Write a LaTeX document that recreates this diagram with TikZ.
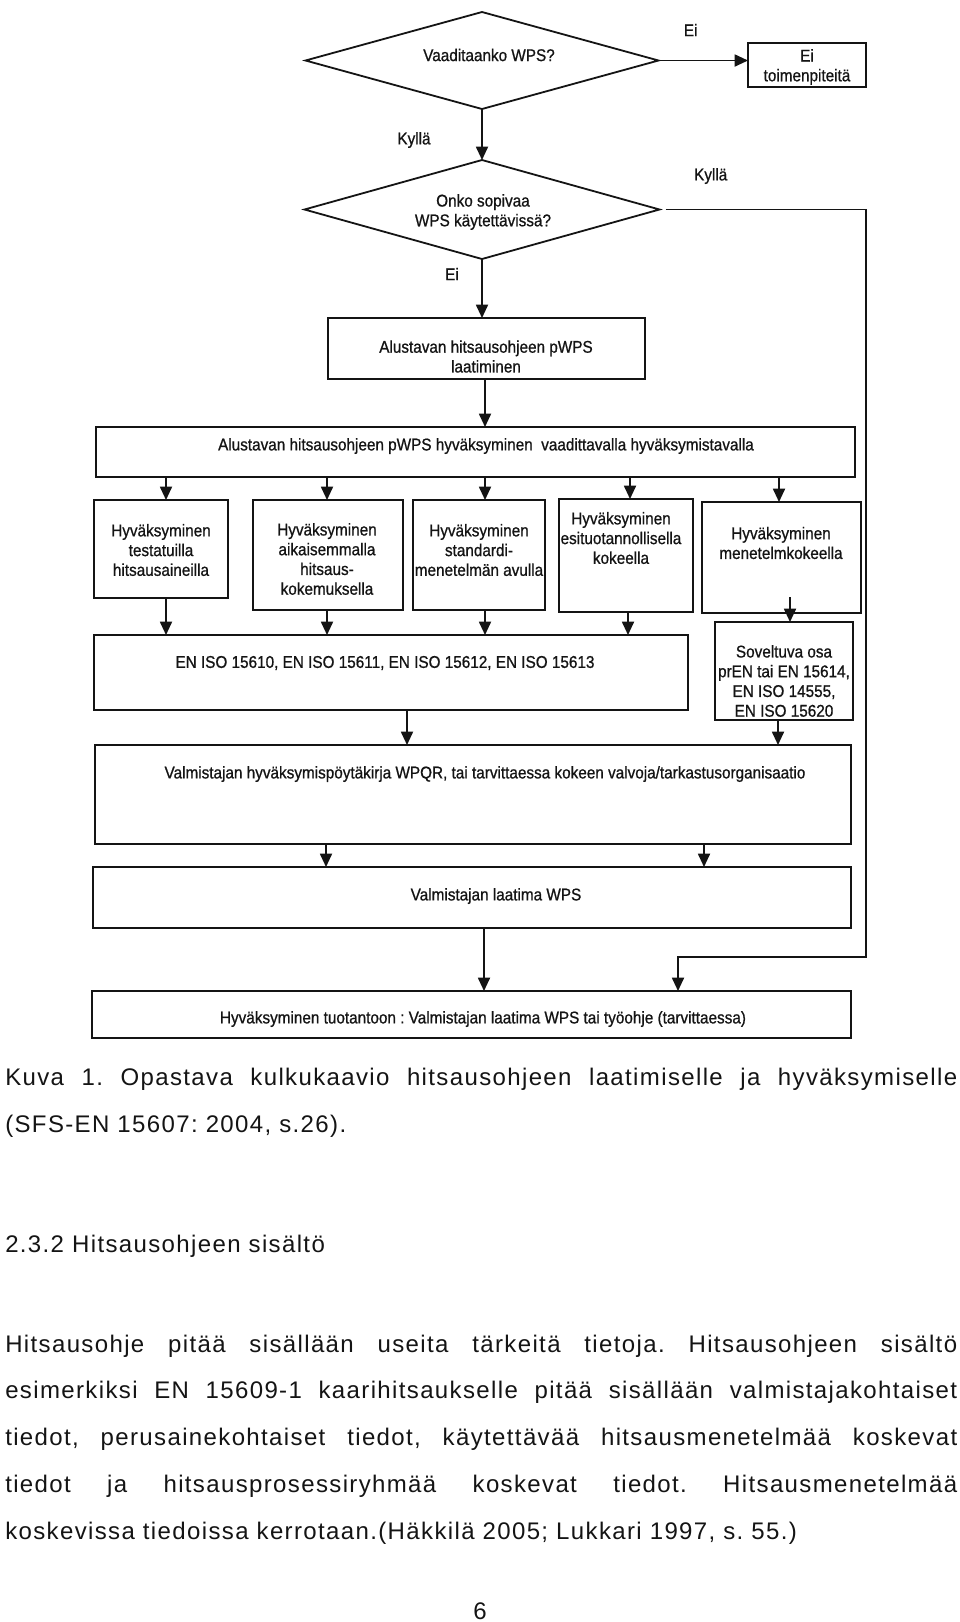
\documentclass[tikz,border=0pt]{standalone}
\usepackage{fontspec}
\setmainfont{Liberation Sans}
\newfontfamily\dfont[FakeStretch=0.9,FakeBold=0.8]{Liberation Sans}
\newfontfamily\bfont[LetterSpace=5.7]{Liberation Sans}
\usetikzlibrary{shapes.geometric,arrows.meta}
\definecolor{ink}{RGB}{20,20,20}
\frenchspacing
\newcommand\rbox[5]{\node[box, minimum width={(#4-#2)*0.75pt}, minimum height={(#5-#3)*0.75pt}] (#1) at ({(#2+#4)/2},{(#3+#5)/2}) {};}
\begin{document}
\begin{tikzpicture}[x=0.75pt,y=-0.75pt,
  box/.style={draw=ink, line width=1.35pt, inner sep=0pt, outer sep=0pt, rectangle},
  dia/.style={draw=ink, line width=1.35pt, diamond, inner sep=0pt, outer sep=0pt},
  dtxt/.style={font=\dfont\fontsize{12.75pt}{14.8pt}\selectfont, align=center, text=ink, inner sep=0pt},
  btxt/.style={font=\bfont\fontsize{18pt}{22pt}\selectfont, anchor=base west, inner sep=0pt, text=ink},
  arr/.style={draw=ink, line width=1.35pt, line join=miter, -{Triangle[length=10pt,width=9pt]}}]
\fill[white] (0,0) rectangle (960,1622);
\useasboundingbox (0,0) rectangle (960,1622);

% decisions
\node[dia, minimum width=353*0.75pt, minimum height=97*0.75pt] (d1) at (482,60.5) {};
\node[dtxt] (d1t) at (489,55) {Vaaditaanko WPS?};
\rbox{ei}{748}{43}{866}{87}
\node[dtxt] (eit) at (807,67) {Ei\\toimenpiteitä};
\node[dtxt] (l1) at (690.7,30) {Ei};
\node[dtxt] (l2) at (414,140) {Kyllä};
\node[dia, minimum width=355*0.75pt, minimum height=99*0.75pt] (d2) at (482,209.5) {};
\node[dtxt] (d2t) at (483,212) {Onko sopivaa\\WPS käytettävissä?};
\node[dtxt] (l3) at (710.7,176) {Kyllä};
\node[dtxt] (l4) at (452,274) {Ei};

% boxes
\rbox{pw}{328}{318}{645}{379}
\node[dtxt] (pwt) at (486,356.5) {Alustavan hitsausohjeen pWPS\\laatiminen};
\rbox{big}{96}{427}{855}{477}
\node[dtxt] (bigt) at (486,446) {Alustavan hitsausohjeen pWPS hyväksyminen\ \ vaadittavalla hyväksymistavalla};
\rbox{b1}{94}{500}{228}{598}
\node[dtxt] (b1t) at (161,550) {Hyväksyminen\\testatuilla\\hitsausaineilla};
\rbox{b2}{253}{500}{403}{610}
\node[dtxt] (b2t) at (327,559) {Hyväksyminen\\aikaisemmalla\\hitsaus-\\kokemuksella};
\rbox{b3}{413}{500}{545}{610}
\node[dtxt] (b3t) at (479,550) {Hyväksyminen\\standardi-\\menetelmän avulla};
\rbox{b4}{559}{499}{693}{612}
\node[dtxt] (b4t) at (621,538) {Hyväksyminen\\esituotannollisella\\kokeella};
\rbox{b5}{702}{502}{861}{613}
\node[dtxt] (b5t) at (781,543) {Hyväksyminen\\menetelmkokeella};
\rbox{en}{94}{635}{688}{710}
\node[dtxt] (ent) at (385,663) {EN ISO 15610, EN ISO 15611, EN ISO 15612, EN ISO 15613};
\rbox{sov}{715}{622}{853}{720}
\node[dtxt] (sovt) at (784,681) {Soveltuva osa\\prEN tai EN 15614,\\EN ISO 14555,\\EN ISO 15620};
\rbox{wpqr}{95}{745}{851}{844}
\node[dtxt] (wpqrt) at (485,774) {Valmistajan hyväksymispöytäkirja WPQR, tai tarvittaessa kokeen valvoja/tarkastusorganisaatio};
\rbox{wps}{93}{867}{851}{928}
\node[dtxt] (wpst) at (496,896) {Valmistajan laatima WPS};
\rbox{fin}{92}{991}{851}{1038}
\node[dtxt] (fint) at (483,1019) {Hyväksyminen tuotantoon : Valmistajan laatima WPS tai työohje (tarvittaessa)};

% connectors
\draw[arr] (d1.east) -- (d1.east -| ei.west);
\draw[arr] (d1.south) -- (d2.north);
\draw[arr] (d2.south) -- (d2.south |- pw.north);
\coordinate (c1) at (866,209.5);
\coordinate (c2) at (866,957);
\coordinate (c3) at (678,957);
\draw[arr] ([xshift=4.5pt]d2.east) -- (c1) -- (c2) -- (c3) -- (c3 |- fin.north);
\coordinate (xp) at (485,0);
\draw[arr] (xp |- pw.south) -- (xp |- big.north);
\coordinate (xa1) at (166,0);
\coordinate (xa2) at (327,0);
\coordinate (xa3) at (485,0);
\coordinate (xa4) at (630,0);
\coordinate (xa5) at (779,0);
\draw[arr] (xa1 |- big.south) -- (xa1 |- b1.north);
\draw[arr] (xa2 |- big.south) -- (xa2 |- b2.north);
\draw[arr] (xa3 |- big.south) -- (xa3 |- b3.north);
\draw[arr] (xa4 |- big.south) -- (xa4 |- b4.north);
\draw[arr] (xa5 |- big.south) -- (xa5 |- b5.north);
\coordinate (xb4) at (628,0);
\draw[arr] (xa1 |- b1.south) -- (xa1 |- en.north);
\draw[arr] (xa2 |- b2.south) -- (xa2 |- en.north);
\draw[arr] (xa3 |- b3.south) -- (xa3 |- en.north);
\draw[arr] (xb4 |- b4.south) -- (xb4 |- en.north);
\coordinate (s5) at (790,597);
\draw[arr] (s5) -- (s5 |- sov.north);
\coordinate (xc1) at (407,0);
\coordinate (xc2) at (778,0);
\draw[arr] (xc1 |- en.south) -- (xc1 |- wpqr.north);
\draw[arr] (xc2 |- sov.south) -- (xc2 |- wpqr.north);
\coordinate (xd1) at (326,0);
\coordinate (xd2) at (704,0);
\draw[arr] (xd1 |- wpqr.south) -- (xd1 |- wps.north);
\draw[arr] (xd2 |- wpqr.south) -- (xd2 |- wps.north);
\coordinate (xe) at (484,0);
\draw[arr] (xe |- wps.south) -- (xe |- fin.north);

% body text
\node[btxt] (cap1) at (5,1085) {\makebox[714pt][s]{Kuva 1. Opastava kulkukaavio hitsausohjeen laatimiselle ja hyväksymiselle}};
\node[btxt] (cap2) at (5,1132) {(SFS-EN 15607: 2004, s.26).};
\node[btxt] (head) at (5,1252) {2.3.2 Hitsausohjeen sisältö};
\node[btxt] (p1) at (5,1352) {\makebox[714pt][s]{Hitsausohje pitää sisällään useita tärkeitä tietoja. Hitsausohjeen sisältö}};
\node[btxt] (p2) at (5,1398.5) {\makebox[714pt][s]{esimerkiksi EN 15609-1 kaarihitsaukselle pitää sisällään valmistajakohtaiset}};
\node[btxt] (p3) at (5,1445) {\makebox[714pt][s]{tiedot, perusainekohtaiset tiedot, käytettävää hitsausmenetelmää koskevat}};
\node[btxt] (p4) at (5,1492) {\makebox[714pt][s]{tiedot ja hitsausprosessiryhmää koskevat tiedot. Hitsausmenetelmää}};
\node[btxt] (p5) at (5,1539) {koskevissa tiedoissa kerrotaan.(Häkkilä 2005; Lukkari 1997, s. 55.)};
\node[btxt, anchor=base] (pg) at (480,1619) {6};
\end{tikzpicture}
\end{document}
